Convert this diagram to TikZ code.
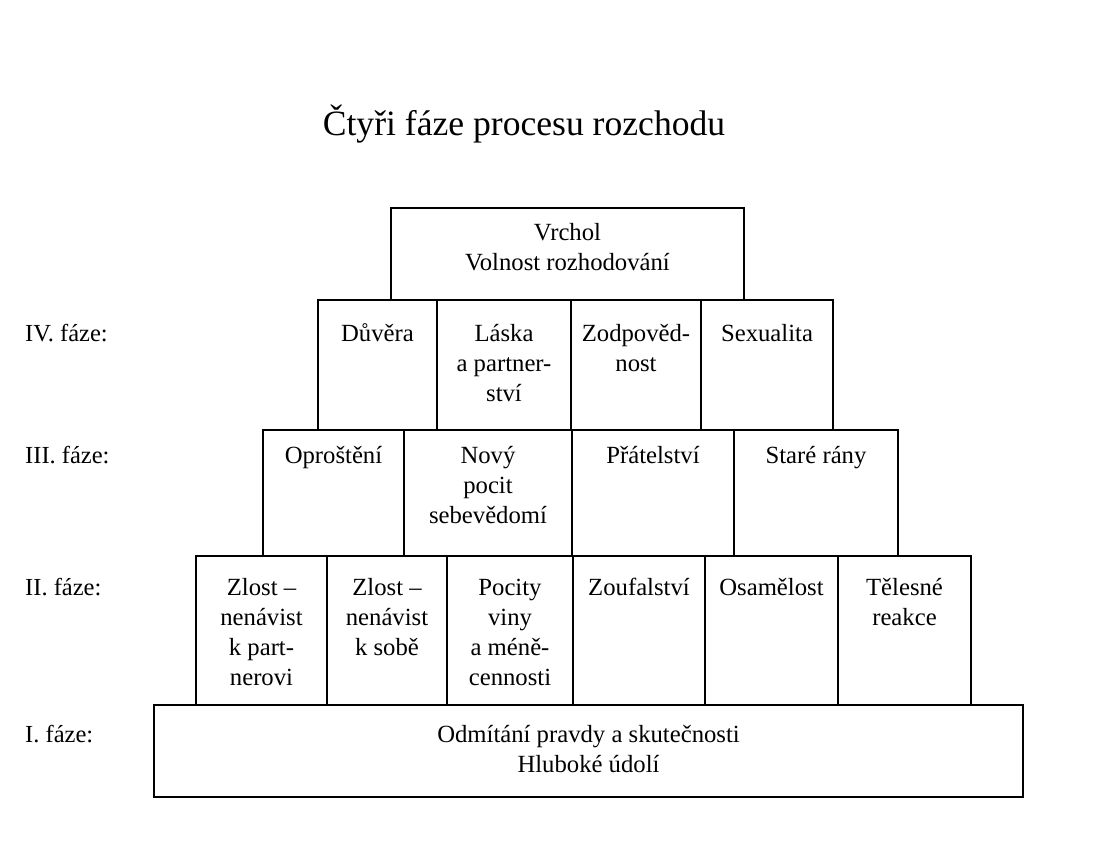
\documentclass[tikz,border=0pt]{standalone}
\usepackage{fontspec}
\setmainfont{Liberation Serif}
\newcommand{\tx}[1]{\begin{tabular}[t]{@{}c@{}}#1\end{tabular}}
\newcommand{\mkcell}[7]{%
  % #1 name, #2 x1, #3 x2, #4 ytop, #5 ybot, #6 offset, #7 text
  \draw[cellline] (#2,#4) rectangle (#3,#5);
  \node[celltext] (#1) at ({(#2+#3)/2},{#4+#6}) {\tx{#7}};
}
\begin{document}
\begin{tikzpicture}[x=1pt,y=-1pt,
  cellline/.style={line width=1.8pt, line join=miter},
  celltext/.style={anchor=base, inner sep=0pt, font=\fontsize{24.7}{30}\selectfont},
  phase/.style={anchor=base west, inner sep=0pt, font=\fontsize{24.5}{30}\selectfont},
  titletext/.style={anchor=base, inner sep=0pt, font=\fontsize{35.6}{42}\selectfont}]
\useasboundingbox (0,0) rectangle (1099,847);
\fill[white] (0,0) rectangle (1099,847);

\node[titletext] (title) at (524,135) {Čtyři fáze procesu rozchodu};

% top
\mkcell{top}{391}{744}{208}{300}{32}{Vrchol\\Volnost rozhodování}

% IV
\mkcell{d}{318}{437}{300}{430}{41}{Důvěra}
\mkcell{l}{437}{571}{300}{430}{41}{Láska\\a partner-\\ství}
\mkcell{z}{571}{701}{300}{430}{41}{Zodpověd-\\nost}
\mkcell{s}{701}{833}{300}{430}{41}{Sexualita}

% III
\mkcell{o}{263}{404}{430}{556}{33}{Oproštění}
\mkcell{n}{404}{572}{430}{556}{33}{Nový\\pocit\\sebevědomí}
\mkcell{p}{572}{734}{430}{556}{33}{Přátelství}
\mkcell{r}{734}{898}{430}{556}{33}{Staré rány}

% II
\mkcell{za}{196}{327}{556}{705}{39}{Zlost –\\nenávist\\k part-\\nerovi}
\mkcell{zb}{327}{447}{556}{705}{39}{Zlost –\\nenávist\\k sobě}
\mkcell{pv}{447}{573}{556}{705}{39}{Pocity\\viny\\a méně-\\cennosti}
\mkcell{zf}{573}{705}{556}{705}{39}{Zoufalství}
\mkcell{os}{705}{838}{556}{705}{39}{Osamělost}
\mkcell{tr}{838}{971}{556}{705}{39}{Tělesné\\reakce}

% I
\mkcell{odm}{154}{1023}{705}{797}{37}{Odmítání pravdy a skutečnosti\\Hluboké údolí}

% phase labels
\node[phase] (f4) at (25,341) {IV. fáze:};
\node[phase] (f3) at (25,463) {III. fáze:};
\node[phase] (f2) at (25,595) {II. fáze:};
\node[phase] (f1) at (25,742) {I. fáze:};
\end{tikzpicture}
\end{document}
